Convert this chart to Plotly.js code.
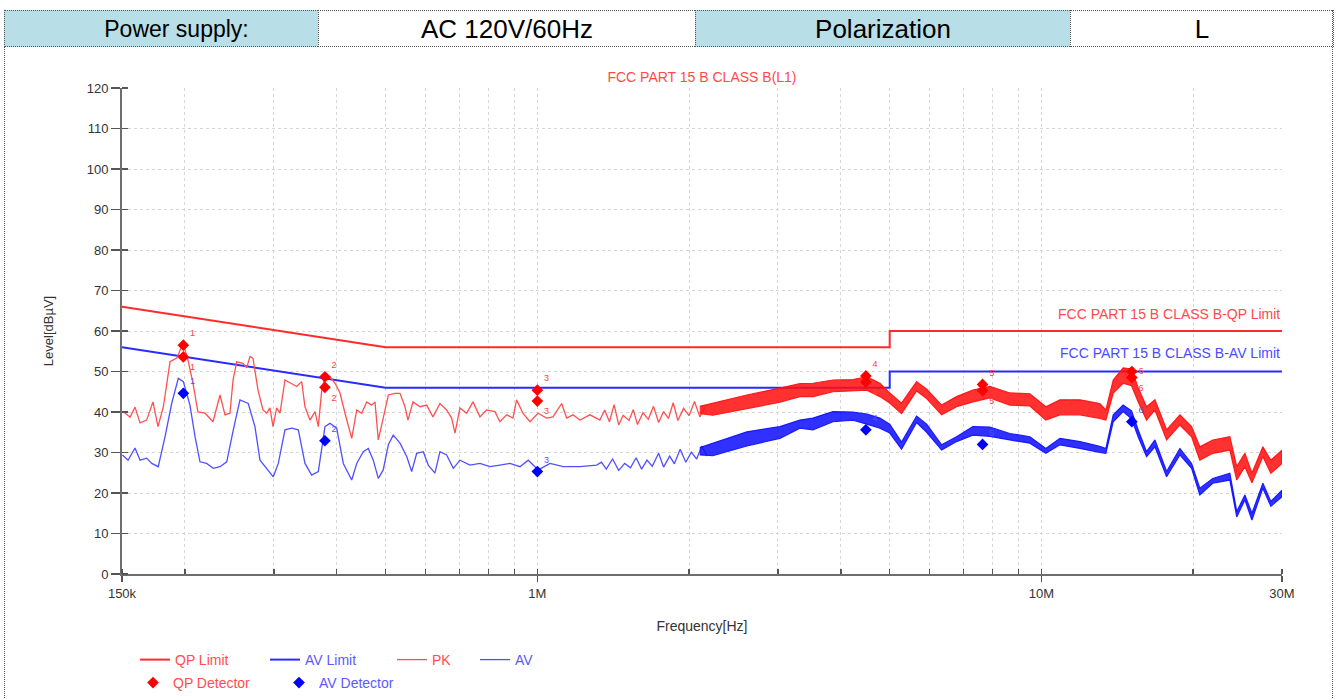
<!DOCTYPE html>
<html><head><meta charset="utf-8">
<script src="https://cdn.plot.ly/plotly-3.0.1.min.js"></script>
<style>
html,body{margin:0;padding:0;background:#fff;}
#wrap{position:relative;width:1338px;height:699px;overflow:hidden;background:#fff;}
#chart{position:absolute;left:0;top:0;width:1338px;height:699px;}
#frame{position:absolute;left:4px;top:10px;width:1329px;height:700px;border-left:1px dotted #555;border-right:1px dotted #555;box-sizing:border-box;pointer-events:none;}
#hdr{position:absolute;left:4px;top:10px;width:1330px;height:37px;display:flex;font-family:"Liberation Sans",Arial,sans-serif;font-size:26px;color:#000;z-index:5;}
.c{box-sizing:border-box;height:37px;line-height:36px;text-align:center;border-top:1px dotted #555;border-bottom:1px dotted #555;border-left:1px dotted #555;white-space:nowrap;}
.b{background:#b8dee8;}
.last{border-right:1px dotted #555;}
</style>
</head><body>
<div id="wrap">
<div id="chart"></div>
<div id="frame"></div>
<div id="hdr">
<div class="c b" style="width:314px;padding-left:30px;font-size:23px;">Power supply:</div>
<div class="c" style="width:377px;">AC 120V/60Hz</div>
<div class="c b" style="width:375px;">Polarization</div>
<div class="c last" style="width:264px;">L</div>
</div>
</div>
<script>
// ---- data (frequency in MHz, level in dBµV) ----
const lim_f = [0.15, 0.5, 5, 5, 30];
const qp_lim = [66, 56, 56, 60, 60];
const av_lim = [56, 46, 46, 50, 50];

// peak scan, sparse part (150 kHz – 2.15 MHz)
const pk_f = [0.1509,0.1556,0.1592,0.1629,0.1679,0.1728,0.1768,0.1812,0.1868,0.1926,0.1982,0.2028,0.2075,0.2122,0.2192,0.2273,0.2347,0.2401,0.2456,0.2491,0.2533,0.2607,0.2651,0.2691,0.2728,0.2792,0.2856,0.2905,0.2948,0.2990,0.3040,0.3087,0.3158,0.3231,0.3331,0.3408,0.3460,0.3540,0.3622,0.3677,0.3735,0.3791,0.3878,0.3969,0.4060,0.4154,0.4283,0.4382,0.4483,0.4586,0.4692,0.4764,0.4836,0.4912,0.5063,0.5220,0.5340,0.5463,0.5538,0.5667,0.5849,0.6031,0.6207,0.6409,0.6608,0.6761,0.6864,0.7023,0.7241,0.7452,0.7693,0.7932,0.8239,0.8429,0.8691,0.8945,0.9097,0.9363,0.9667,1.0028,1.0433,1.0738,1.1174,1.1432,1.1766,1.2149,1.2715,1.3307,1.36,1.39,1.42,1.45,1.48,1.52,1.55,1.58,1.62,1.66,1.70,1.74,1.78,1.82,1.86,1.90,1.95,2.0,2.05,2.1,2.15];
const pk_v = [40.1,38.7,41.2,37.3,38,42.5,36.4,41.3,52.4,53.3,57,52.8,47,40,39.7,37.6,44.2,39.3,39.7,47.9,52.4,52,50.9,53.7,53.3,45.4,40.5,39.7,41,36.4,41,39.7,47.9,47.2,46.3,47.5,41.3,38,40.1,36.4,45.4,48.7,48.7,47.1,44.7,39.7,33.5,40.5,39.7,42.5,41.7,42.5,33.1,36.8,44.2,44.6,44.6,41.3,38,42.5,41.3,41.7,38.8,42.1,40.5,38.5,34.8,41,39.7,42.5,38.8,40.5,40.1,37.6,39.3,38.5,43,39.7,37.6,39.7,38.5,38.8,42.1,38.5,39.3,38,39.3,38,40.5,37.6,41.8,36.8,39.2,37.9,40.6,36.9,39.8,38.2,41.4,37.4,40.1,38.4,42.3,37.9,40.9,39.1,42.6,38.8,41.2];

// average scan, sparse part (150 kHz – 2.17 MHz)
const av_f = [0.1503,0.1542,0.1592,0.1629,0.1679,0.1718,0.1770,0.1826,0.1882,0.1940,0.1985,0.2046,0.2094,0.2142,0.2208,0.2276,0.2347,0.2420,0.2494,0.2571,0.2670,0.2753,0.2817,0.2926,0.2994,0.3063,0.3158,0.3257,0.3356,0.3460,0.3567,0.3677,0.3791,0.3878,0.3999,0.4122,0.4283,0.4382,0.4516,0.4620,0.4726,0.4836,0.4946,0.5063,0.5178,0.5340,0.5506,0.5633,0.5763,0.5939,0.6076,0.6264,0.6409,0.6608,0.6813,0.7023,0.7350,0.7693,0.8055,0.8429,0.8824,0.9236,0.9592,1.0042,1.0594,1.1257,1.2149,1.3110,1.34,1.37,1.41,1.45,1.49,1.53,1.57,1.61,1.65,1.69,1.74,1.78,1.83,1.87,1.92,1.97,2.02,2.07,2.12,2.17];
const av_v = [29.4,28.1,31.1,28.1,28.6,27.3,26.5,33.9,42.1,48.3,47.5,41.7,33.9,27.7,27.3,26.1,26.5,27.7,35.6,43,42.1,36.4,28.1,25.7,24,27.3,35.6,36,35.6,27.3,24.4,25.3,36.4,37.2,36,27.3,23.2,27.3,30.2,31,28.1,23.6,25.7,31.9,34.3,32.3,29,25.3,29.8,30.2,26.9,24.9,30.2,29.4,26.1,28.1,26.9,27.3,26.5,26.9,27.3,26.5,28.1,25.7,27.3,26.5,26.5,26.9,27.6,25.9,28.4,25.6,27.3,26.2,28.7,25.9,28.1,26.6,29.8,26.4,29.1,27.2,30.8,27.6,30.1,28.4,31.6,29.1];

// dense part of the scan (2.1 – 30 MHz): upper / lower edge of the noisy trace
const band_f = [2.1,2.229,2.604,3.028,3.317,3.521,3.858,4.226,4.505,4.781,5.0,5.278,5.653,5.92,6.338,6.785,7.309,7.9,8.655,9.484,10.2,10.88,11.92,13.05,13.42,13.88,14.52,15.09,15.55,16.16,16.79,17.71,18.82,19.85,20.61,21.87,23.64,24.4,25.32,26.15,27.49,28.51,30];
const pk_hi = [41.4,42.2,44.2,45.9,47,47.1,47.9,48,48.7,47.1,44.7,42.2,47.5,45.6,41.7,43.8,45.4,46.3,44.7,44.5,41.3,43,43,42.1,40.5,47.9,50.9,50.6,46,41.3,43,35.6,39.3,36.4,31.4,33.1,33.9,26.5,29.8,24.9,31.4,28.1,30.6];
const pk_lo = [39.6,39.2,40.9,42.4,43.8,43.8,45,45.2,45.4,43.8,42.2,39.6,45.2,43.3,39.3,41.3,42.5,43.5,41.7,41.5,38,39.3,39.3,38.4,38,44.7,47.1,46.5,42.5,38,40.5,33.1,36.8,33.9,28.1,29.8,30.6,23.2,26.5,22.5,29,24.9,27.3];
const av_hi = [31.2,32.3,35.1,36.4,38,38.5,40.1,40,39.5,38.5,37,32.6,39,37,31.9,33.9,36.4,36.3,34.7,33.9,31,33.5,32.7,31.5,31,39.3,41.7,40.3,35.6,30.2,33.1,25.3,31,27.3,21.2,23.6,24.9,15.4,19.5,15,22.4,17.9,20.7];
const av_lo = [29.4,29.2,31.6,33.5,36,35.6,37.6,38,37,36,34.8,30.8,37.4,35,30.6,32.7,34.3,34,33.1,32.3,29.8,31.9,31,30,29.8,37.6,40.1,38.3,33.9,29,31.4,24,29.4,26.1,19.5,22.4,23.2,14.1,18.3,13.3,21.2,16.7,19.1];

const qp_f = [0.1985,0.1985,0.379,0.379,1.0,1.0,4.484,4.484,7.64,7.64,15.11,15.11];
const qp_v = [56.5,53.6,48.7,46.1,45.4,42.7,48.9,47.4,46.8,45.3,50.0,48.5];
const qp_lbl = ["1","1","2","2","3","3","4","4","5","5","6","6"];
const avd_f = [0.1985,0.379,1.0,4.484,7.64,15.11];
const avd_v = [44.6,32.9,25.3,35.6,32.0,37.6];
const avd_lbl = ["1","2","3","4","5","6"];

const tick_vals = [0.15,0.2,0.3,0.4,0.5,0.6,0.7,0.8,0.9,1,2,3,4,5,6,7,8,9,10,20,30];
const tick_text = ["150k","","","","","","","","","1M","","","","","","","","","10M","","30M"];

const chartTitle = "FCC PART 15 B CLASS B(L1)";
const qpLimitLabel = "FCC PART 15 B CLASS B-QP Limit";
const avLimitLabel = "FCC PART 15 B CLASS B-AV Limit";

// ---- figure ----
const F = '"Liberation Sans", Arial, sans-serif';
const RED = '#ff2a2a', BLUE = '#2a2aff';

function closed(f, hi, lo){
  return {x: f.concat(f.slice().reverse()), y: hi.concat(lo.slice().reverse())};
}
const pkBand = closed(band_f, pk_hi, pk_lo);
const avBand = closed(band_f, av_hi, av_lo);

const qpPos = qp_lbl.map((s, i) => (i % 2 === 0 ? (s === '6' ? 'middle right' : 'top right') : 'bottom right'));

const traces = [
  {x: lim_f, y: qp_lim, type:'scatter', mode:'lines', name:'QP Limit', legend:'legend',
   line:{color:RED, width:2}},
  {x: lim_f, y: av_lim, type:'scatter', mode:'lines', name:'AV Limit', legend:'legend2',
   line:{color:BLUE, width:2}},
  {x: pk_f, y: pk_v, type:'scatter', mode:'lines', name:'PK', legend:'legend3',
   line:{color:'#ff5050', width:1.3}},
  {x: pkBand.x, y: pkBand.y, type:'scatter', mode:'lines', fill:'toself', showlegend:false,
   fillcolor:'rgba(255,15,15,0.86)', line:{color:'rgba(255,20,20,0.95)', width:1.2}},
  {x: av_f, y: av_v, type:'scatter', mode:'lines', name:'AV', legend:'legend4',
   line:{color:'#5050ff', width:1.3}},
  {x: avBand.x, y: avBand.y, type:'scatter', mode:'lines', fill:'toself', showlegend:false,
   fillcolor:'rgba(15,15,255,0.86)', line:{color:'rgba(20,20,255,0.95)', width:1.2}},
  {x: qp_f, y: qp_v, type:'scatter', mode:'markers+text', name:'QP Detector', legend:'legend5',
   marker:{symbol:'diamond', size:9, color:'#ff0000'}, text: qp_lbl, textposition: qpPos,
   textfont:{family:F, size:9, color:'#ff4040'}},
  {x: avd_f, y: avd_v, type:'scatter', mode:'markers+text', name:'AV Detector', legend:'legend6',
   marker:{symbol:'diamond', size:9, color:'#0000ff'}, text: avd_lbl, textposition:'top right',
   textfont:{family:F, size:9, color:'#5050ff'}}
];

function lg(px, py, color){
  return {x: px/1338, y: 1 - py/699, xref:'container', yref:'container', xanchor:'left', yanchor:'middle',
          orientation:'h', bgcolor:'rgba(0,0,0,0)', borderwidth:0,
          font:{family:F, size:14, color:color}};
}

const axisCommon = {
  showline:true, linecolor:'#6e6e6e', linewidth:2, mirror:false,
  ticks:'outside', tickcolor:'#555', tickwidth:1.5,
  showgrid:true, gridcolor:'#d6d6d6', griddash:'dot', gridwidth:1,
  zeroline:false, tickfont:{family:F, size:13, color:'#333'}
};

const layout = {
  width:1338, height:699,
  margin:{l:122, r:56, t:88, b:125},
  paper_bgcolor:'#fff', plot_bgcolor:'#fff',
  font:{family:F},
  title:{text: chartTitle, x:0.5, xref:'paper', xanchor:'center', y:1-77/699, yref:'container', yanchor:'middle',
         font:{family:F, size:14, color:'#ff4a4a'}},
  xaxis: Object.assign({}, axisCommon, {
    type:'log', range:[Math.log10(tick_vals[0]), Math.log10(tick_vals[tick_vals.length-1])],
    tickmode:'array', tickvals: tick_vals, ticktext: tick_text, ticklen:6,
    minor:{tickmode:'array', tickvals: tick_vals, ticks:'inside', ticklen:5, tickcolor:'#555', tickwidth:1.5, showgrid:false},
    title:{text:'Frequency[Hz]', standoff:22, font:{family:F, size:14, color:'#333'}}
  }),
  yaxis: Object.assign({}, axisCommon, {
    range:[0,120], dtick:10, tick0:0, ticklen:9,
    minor:{tickmode:'linear', tick0:0, dtick:10, ticks:'inside', ticklen:6, tickcolor:'#555', tickwidth:1.5, showgrid:false},
    title:{text:'Level[dBµV]', standoff:30, font:{family:F, size:13, color:'#333'}}
  }),
  legend:  lg(135, 660, '#ff4d4d'),
  legend2: lg(265, 660, '#5a5aff'),
  legend3: lg(392, 660, '#ff4d4d'),
  legend4: lg(475, 660, '#5a5aff'),
  legend5: lg(133, 683, '#ff4d4d'),
  legend6: lg(279, 683, '#5a5aff'),
  annotations:[
    {x: Math.log10(lim_f[lim_f.length-1]), y: qp_lim[qp_lim.length-1], xref:'x', yref:'y',
     xanchor:'right', yanchor:'bottom', yshift:7, showarrow:false, text: qpLimitLabel,
     font:{family:F, size:14, color:'#ff4a4a'}},
    {x: Math.log10(lim_f[lim_f.length-1]), y: av_lim[av_lim.length-1], xref:'x', yref:'y',
     xanchor:'right', yanchor:'bottom', yshift:9, showarrow:false, text: avLimitLabel,
     font:{family:F, size:14, color:'#4a4aff'}}
  ],
  showlegend:true
};

Plotly.newPlot('chart', traces, layout, {displayModeBar:false, staticPlot:true});
</script>
</body></html>
